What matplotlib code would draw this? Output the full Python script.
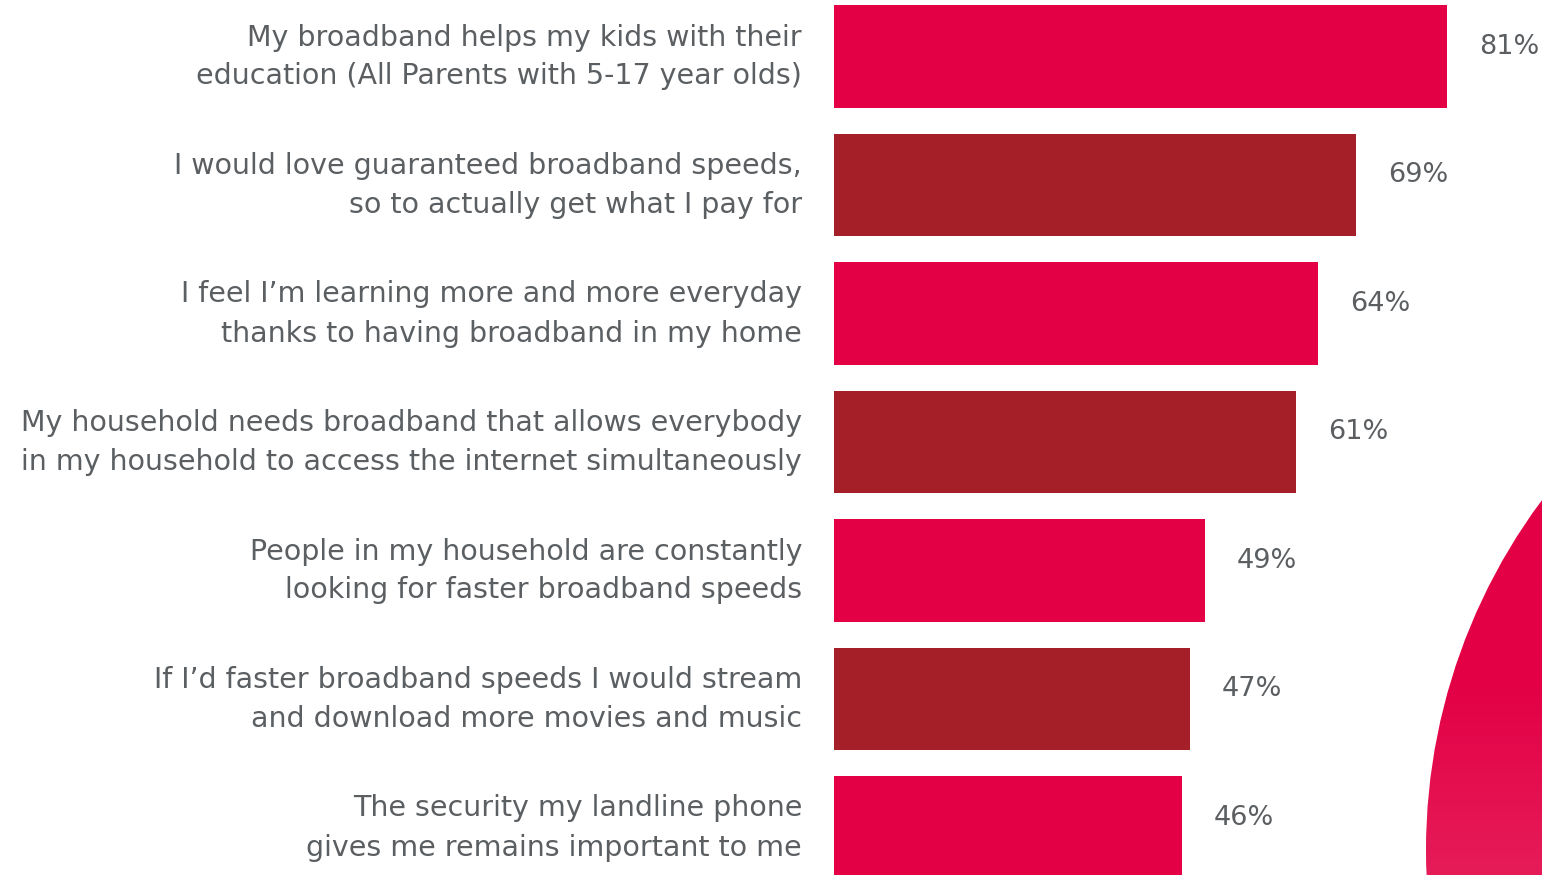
import matplotlib.pyplot as plt
import numpy as np
from matplotlib.patches import Circle
from matplotlib.colors import LinearSegmentedColormap
from matplotlib.transforms import ScaledTranslation

labels = [
    "My broadband helps my kids with their\neducation (All Parents with 5-17 year olds)",
    "I would love guaranteed broadband speeds,\nso to actually get what I pay for",
    "I feel I\u2019m learning more and more everyday\nthanks to having broadband in my home",
    "My household needs broadband that allows everybody\nin my household to access the internet simultaneously",
    "People in my household are constantly\nlooking for faster broadband speeds",
    "If I\u2019d faster broadband speeds I would stream\nand download more movies and music",
    "The security my landline phone\ngives me remains important to me",
]
values = [81, 69, 64, 61, 49, 47, 46]

PINK = "#E30045"
DARK = "#A51F29"
GREY = "#5B5F62"

plt.rcParams['font.family'] = ['DejaVu Sans']

W, H = 1542, 875
fig = plt.figure(figsize=(W / 100, H / 100), dpi=100)

# decorative circle in the lower right corner, with a soft vertical gradient
deco = fig.add_axes([0, 0, 1, 1])
deco.set_xlim(0, W)
deco.set_ylim(H, 0)
deco.axis('off')
grad = np.linspace(0, 1, 256).reshape(-1, 1)
cmap = LinearSegmentedColormap.from_list("deco", ["#E30045", "#E30045", "#E61C58"])
im = deco.imshow(grad, cmap=cmap, extent=[1420, W, H, 490], aspect='auto', zorder=0)
circ = Circle((2012, 850), 586, transform=deco.transData, facecolor='none', edgecolor='none')
deco.add_patch(circ)
im.set_clip_path(circ)

# bar axes: left edge at the bar baseline
ax = fig.add_axes([834 / W, 0, 1 - 834 / W, 1])
ax.patch.set_alpha(0)
pitch = 128.5
top = 56.5
ax.set_ylim((H - top) / pitch, -top / pitch)
ax.set_xlim(0, (W - 834) / 7.57)

y = np.arange(len(values))
colors = [PINK if i % 2 == 0 else DARK for i in y]
ax.barh(y, values, height=0.80, color=colors, zorder=2)

for yi, v in zip(y, values):
    ax.annotate(f"{v}%", (v, yi), xytext=(23, 7), textcoords='offset points',
                ha='left', va='center', fontsize=19.5, color=GREY)

ax.set_yticks(y)
ax.set_yticklabels(labels, fontsize=20.5, color=GREY, ha='right', linespacing=1.5)
ax.tick_params(axis='y', length=0, pad=23)
# nudge the two-line labels up so they sit centred on the bars
nudge = ScaledTranslation(0, 0.08, fig.dpi_scale_trans)
for lbl in ax.get_yticklabels():
    lbl.set_transform(lbl.get_transform() + nudge)
ax.set_xticks([])
for s in ax.spines.values():
    s.set_visible(False)

fig.savefig("out.png", dpi=100)
